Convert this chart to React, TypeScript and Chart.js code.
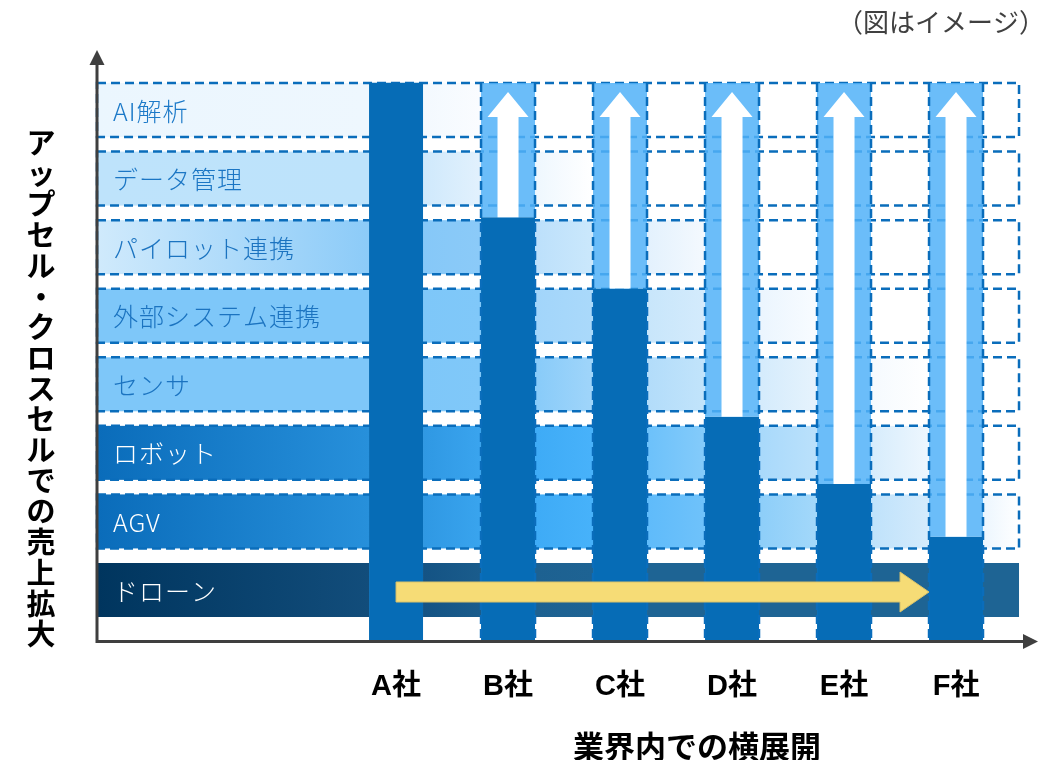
import { useEffect, useRef } from 'react';
import { Chart, registerables } from 'chart.js';

Chart.register(...registerables);

// ---------------- data ----------------
const companies = ['A社', 'B社', 'C社', 'D社', 'E社', 'F社'];
// height reached by each company's sales (in service-row units, bottom = 0)
const salesReach = [8.14, 6.18, 5.14, 3.27, 2.29, 1.52];
// service rows, bottom to top
const services = ['ドローン', 'AGV', 'ロボット', 'センサ', '外部システム連携', 'パイロット連携', 'データ管理', 'AI解析'];
// horizontal expansion arrow: from company index to company index
const expansionFrom = 0;
const expansionTo = 5;
const noteText = '（図はイメージ）';
const yTitle = 'アップセル・クロスセルでの売上拡大';
const xTitle = '業界内での横展開';

// ---------------- layout / style constants ----------------
const ROW_OFFSET = 0.35;
const ROW_HEIGHT = 0.7875;
const TOP = services.length - 1 + ROW_OFFSET + ROW_HEIGHT;
const X_MIN = -2.67;
const X_MAX = 5.732;
const Y_MAX = 8.619;
const ROW_END = 5.5625;
const JP = '"Noto Sans CJK JP", "Noto Sans CJK SC", sans-serif';

// segment gradients per row: [label area, A-B, B-C, C-D, D-E, E-F, after F]
const rowSegmentColors: (string[] | null)[][] = [
  [['#00355e', '#124d7b'], ['#145384', '#1a5c8c'], ['#1d6191', '#1e6393'], ['#1e6494', '#1e6494'], ['#1e6494', '#1e6494'], ['#1e6494', '#1e6494'], ['#1e6494', '#1e6494']],
  [['#0a6cba', '#2790db'], ['#2f98e3', '#39a4ee'], ['#3eabf6', '#47b2fa'], ['#5fbbfa', '#6fc2fa'], ['#8dcef9', '#a3d8fa'], ['#bfe2fb', '#d4ebfc'], ['#ecf6fe', '#ffffff']],
  [['#0a6cba', '#2790db'], ['#2f98e3', '#3aa4ee'], ['#3eabf6', '#48b2fa'], ['#6cc1fa', '#84cbfa'], ['#a8d9fb', '#bbe1fb'], ['#d6ecfc', '#eef7fe'], null],
  [['#7ec7f9', '#7ec7f9'], ['#7ec7f9', '#80c8f9'], ['#88cbf9', '#a0d5fa'], ['#b2dcfa', '#c2e4fb'], ['#d4ebfc', '#e6f3fd'], ['#f5fafe', '#ffffff'], null],
  [['#7ec7f9', '#7ec7f9'], ['#7ec7f9', '#80c8f9'], ['#a2d5fa', '#aad9fa'], ['#c8e6fb', '#d4ebfc'], ['#ebf5fe', '#f8fcff'], null, null],
  [['#d0eafc', '#8ccbf8'], ['#86c8f8', '#8bcaf8'], ['#bce0fb', '#cbe8fc'], ['#e3f1fd', '#f4f9fe'], null, null, null],
  [['#bee3fb', '#bde3fb'], ['#cfe9fc', '#e2f1fd'], ['#eef7fe', '#ffffff'], null, null, null, null],
  [['#ebf6fe', '#eef7fe'], ['#f3f9fe', '#fafcff'], null, null, null, null, null],
];
const rowTextColors = ['#ffffff', '#ffffff', '#ffffff', '#1b73c0', '#1b73c0', '#1b73c0', '#1b76c4', '#1b79c8'];
const DASH_COLOR = '#0a6dbb';
const AXIS_COLOR = '#3f3f3f';

const scenePlugin = {
  id: 'scene',
  beforeDatasetsDraw(chart: any) {
    const ctx = chart.ctx as CanvasRenderingContext2D;
    const xs = chart.scales.x;
    const ys = chart.scales.y;
    const bars = chart.getDatasetMeta(1).data;
    const left = chart.chartArea.left;
    const rowRight = xs.getPixelForValue(ROW_END);
    const edges = bars.map((b: any) => [b.x - b.width / 2, b.x + b.width / 2]);
    const segs: number[][] = [[left, edges[0][0]]];
    for (let i = 0; i < edges.length - 1; i++) segs.push([edges[i][1], edges[i + 1][0]]);
    segs.push([edges[edges.length - 1][1], rowRight]);

    ctx.save();
    services.forEach((_, k) => {
      const yTop = ys.getPixelForValue(k + ROW_OFFSET + ROW_HEIGHT);
      const yBot = ys.getPixelForValue(k + ROW_OFFSET);
      rowSegmentColors[k].forEach((c, s) => {
        if (!c) return;
        const [x0, x1] = segs[s];
        const g = ctx.createLinearGradient(x0, 0, x1, 0);
        g.addColorStop(0, c[0]);
        g.addColorStop(1, c[1]);
        ctx.fillStyle = g;
        ctx.fillRect(x0, yTop, x1 - x0, yBot - yTop);
      });
    });
    // dashed row borders
    ctx.setLineDash([9, 5]);
    ctx.lineWidth = 2.5;
    ctx.strokeStyle = DASH_COLOR;
    services.forEach((_, k) => {
      if (k === 0) return;
      const yTop = ys.getPixelForValue(k + ROW_OFFSET + ROW_HEIGHT);
      const yBot = ys.getPixelForValue(k + ROW_OFFSET);
      ctx.strokeRect(left, yTop, rowRight - left, yBot - yTop);
    });
    ctx.setLineDash([]);
    // row labels
    ctx.font = `300 25px ${JP}`;
    (ctx as any).letterSpacing = '1px';
    ctx.textAlign = 'left';
    ctx.textBaseline = 'middle';
    services.forEach((name, k) => {
      const yc = ys.getPixelForValue(k + ROW_OFFSET + ROW_HEIGHT / 2);
      ctx.fillStyle = rowTextColors[k];
      ctx.fillText(name, left + 16, yc + 1);
    });
    (ctx as any).letterSpacing = '0px';
    ctx.restore();
  },
  afterDatasetsDraw(chart: any) {
    const ctx = chart.ctx as CanvasRenderingContext2D;
    const ys = chart.scales.y;
    const area = chart.chartArea;
    const bars = chart.getDatasetMeta(1).data;
    const topPx = ys.getPixelForValue(TOP);
    const bottomPx = ys.getPixelForValue(0);
    ctx.save();
    // column dashed borders
    ctx.setLineDash([9, 5]);
    ctx.lineWidth = 2.5;
    ctx.strokeStyle = DASH_COLOR;
    bars.forEach((b: any, i: number) => {
      if (i === 0) return;
      [b.x - b.width / 2, b.x + b.width / 2].forEach((x) => {
        ctx.beginPath();
        ctx.moveTo(x, topPx);
        ctx.lineTo(x, bottomPx);
        ctx.stroke();
      });
    });
    ctx.setLineDash([]);
    // white upward arrows
    ctx.fillStyle = '#ffffff';
    bars.forEach((b: any, i: number) => {
      if (i === 0) return;
      const cx = b.x;
      const tipY = topPx + 9;
      const baseY = tipY + 25;
      const barTop = b.y;
      ctx.beginPath();
      ctx.moveTo(cx, tipY);
      ctx.lineTo(cx + 20.5, baseY);
      ctx.lineTo(cx + 10.5, baseY);
      ctx.lineTo(cx + 10.5, barTop);
      ctx.lineTo(cx - 10.5, barTop);
      ctx.lineTo(cx - 10.5, baseY);
      ctx.lineTo(cx - 20.5, baseY);
      ctx.closePath();
      ctx.fill();
    });
    // yellow horizontal arrow along the bottom row
    const yc = ys.getPixelForValue(ROW_OFFSET + ROW_HEIGHT / 2) + 2;
    const startX = bars[expansionFrom].x;
    const tipX = bars[expansionTo].x - bars[expansionTo].width / 2;
    const headX = tipX - 29;
    ctx.fillStyle = '#f6dc76';
    ctx.strokeStyle = '#d9c26a';
    ctx.lineWidth = 1;
    ctx.beginPath();
    ctx.moveTo(startX, yc - 10);
    ctx.lineTo(headX, yc - 10);
    ctx.lineTo(headX, yc - 20);
    ctx.lineTo(tipX, yc);
    ctx.lineTo(headX, yc + 20);
    ctx.lineTo(headX, yc + 10);
    ctx.lineTo(startX, yc + 10);
    ctx.closePath();
    ctx.fill();
    ctx.stroke();

    // axes with arrowheads
    ctx.strokeStyle = AXIS_COLOR;
    ctx.fillStyle = AXIS_COLOR;
    ctx.lineWidth = 3;
    const ax = area.left;
    const ay = area.bottom + 0.5;
    ctx.beginPath();
    ctx.moveTo(ax, ay + 1.5);
    ctx.lineTo(ax, area.top + 12);
    ctx.moveTo(ax - 1.5, ay);
    ctx.lineTo(area.right - 12, ay);
    ctx.stroke();
    ctx.beginPath();
    ctx.moveTo(ax, area.top);
    ctx.lineTo(ax + 7.5, area.top + 15);
    ctx.lineTo(ax - 7.5, area.top + 15);
    ctx.closePath();
    ctx.fill();
    ctx.beginPath();
    ctx.moveTo(area.right, ay);
    ctx.lineTo(area.right - 15, ay - 7.5);
    ctx.lineTo(area.right - 15, ay + 7.5);
    ctx.closePath();
    ctx.fill();

    // titles
    ctx.fillStyle = '#000000';
    ctx.textAlign = 'center';
    ctx.textBaseline = 'middle';
    ctx.font = `bold 29px ${JP}`;
    Array.from(yTitle).forEach((ch, i) => {
      ctx.fillText(ch, 41, 143 + i * 30.7);
    });
    ctx.font = `bold 31px ${JP}`;
    ctx.fillText(xTitle, 697, 746);
    ctx.font = `26px ${JP}`;
    ctx.fillStyle = '#404040';
    ctx.textAlign = 'right';
    ctx.fillText(noteText, 1045, 22);
    ctx.restore();
  },
};

export default function App() {
  const ref = useRef<HTMLCanvasElement>(null);
  useEffect(() => {
    const chart = new Chart(ref.current as HTMLCanvasElement, {
      type: 'bar',
      data: {
        datasets: [
          {
            label: 'potential',
            data: companies.map((_, i) => ({ x: i, y: i === 0 ? null : [salesReach[i], TOP] })) as any,
            backgroundColor: 'rgba(81,178,248,0.85)',
            grouped: false,
            categoryPercentage: 1,
            barPercentage: 0.482,
          } as any,
          {
            label: 'sales',
            data: companies.map((_, i) => ({ x: i, y: salesReach[i] })) as any,
            backgroundColor: '#066cb6',
            grouped: false,
            categoryPercentage: 1,
            barPercentage: 0.482,
          } as any,
        ],
      },
      options: {
        animation: false,
        responsive: true,
        maintainAspectRatio: false,
        devicePixelRatio: 1,
        layout: { padding: { left: 97, right: 15, top: 50, bottom: 0 } },
        plugins: {
          legend: { display: false },
          tooltip: { enabled: false },
          title: { display: false },
        },
        scales: {
          x: {
            type: 'linear',
            offset: false,
            min: X_MIN,
            max: X_MAX,
            grid: { display: false, drawTicks: false, tickLength: 0, offset: false },
            border: { display: false },
            afterBuildTicks: (s: any) => {
              s.ticks = companies.map((_, i) => ({ value: i }));
            },
            afterFit: (s: any) => {
              s.height = 119;
            },
            ticks: {
              autoSkip: false,
              maxRotation: 0,
              minRotation: 0,
              padding: 29,
              color: '#000000',
              font: { family: '"Liberation Sans", "Noto Sans CJK JP", sans-serif', size: 29, weight: 'bold' },
              callback: (v: any) => companies[v as number] ?? '',
            },
          },
          y: { type: 'linear', display: false, min: 0, max: Y_MAX },
        },
      } as any,
      plugins: [scenePlugin],
    });
    return () => chart.destroy();
  }, []);
  return (
    <div style={{ position: 'fixed', left: 0, top: 0, width: 1053, height: 760 }}>
      <canvas ref={ref} />
    </div>
  );
}
